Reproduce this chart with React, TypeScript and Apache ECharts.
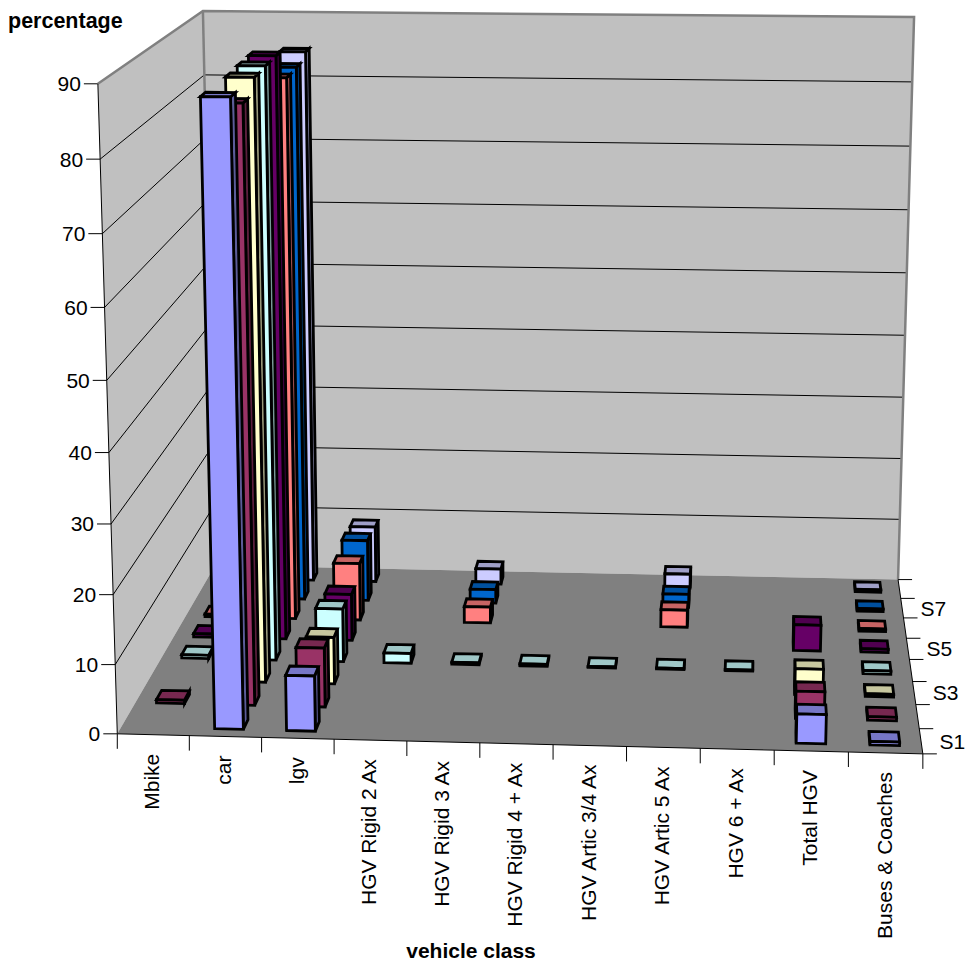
import React, { useEffect, useRef } from "react";
import * as echarts from "echarts";

const W = 966;
const H = 961;
const categories = ["Mbike", "car", "lgv", "HGV Rigid 2 Ax", "HGV Rigid 3 Ax", "HGV Rigid 4 + Ax", "HGV Artic 3/4 Ax", "HGV Artic 5 Ax", "HGV 6 + Ax", "Total HGV", "Buses & Coaches"];
const seriesNames = ["S1", "S2", "S3", "S4", "S5", "S6", "S7", "S8"];
const s1 = [null, 88, 8, null, null, null, null, null, null, 4.2, 0.5];
const s2 = [0.5, 85.7, 8.7, null, null, null, null, null, null, 4, 0.5];
const s3 = [null, 87.8, 7, null, null, null, null, null, null, 3.9, 0.4];
const s4 = [0.5, 88, 8.1, 1.5, 0.3, 0.3, 0.15, 0.15, 0.15, null, 0.5];
const s5 = [0.5, 88.1, 7.2, null, null, null, null, null, null, 4, 0.5];
const s6 = [0.4, 83.5, 9, null, 2.5, null, null, 2.7, null, null, 0.4];
const s7 = [0.4, 83.7, 9.7, null, 2.2, null, null, 2.1, null, null, 0.4];
const s8 = [0.4, 84.7, 9, null, 2.5, null, null, 2.3, null, null, 0.4];
const rows = [s1, s2, s3, s4, s5, s6, s7, s8];
const valueTicks = [0, 10, 20, 30, 40, 50, 60, 70, 80, 90];
const colors = ["#9999FF", "#993366", "#FFFFCC", "#CCFFFF", "#660066", "#FF8080", "#0066CC", "#CCCCFF"];
const axisMax = 90;
const barFraction = 0.4;

// box corners: [u, v, w, x, y]
const anchors = [
  [0, 0, 0, 117.5, 734],
  [1, 0, 0, 923, 753.5],
  [0, 1, 0, 215, 565],
  [1, 1, 0, 898, 580],
  [0, 0, 1, 97.5, 84],
  [0, 1, 1, 203.3, 11],
  [1, 1, 1, 914, 17],
];

function solveCamera(): number[] {
  const A: number[][] = [];
  const b: number[] = [];
  anchors.forEach(([u, v, w, x0, y0]) => {
    const x = x0 / 1000;
    const y = y0 / 1000;
    A.push([u, v, w, 1, 0, 0, 0, 0, -x * u, -x * v, -x * w]);
    b.push(x);
    A.push([0, 0, 0, 0, u, v, w, 1, -y * u, -y * v, -y * w]);
    b.push(y);
  });
  const n = 11;
  const M: number[][] = [];
  for (let i = 0; i < n; i++) {
    const r: number[] = [];
    for (let j = 0; j < n; j++) {
      let s = 0;
      A.forEach((row) => (s += row[i] * row[j]));
      r.push(s);
    }
    let s = 0;
    A.forEach((row, k) => (s += row[i] * b[k]));
    r.push(s);
    M.push(r);
  }
  for (let c = 0; c < n; c++) {
    let p = c;
    for (let r = c + 1; r < n; r++) if (Math.abs(M[r][c]) > Math.abs(M[p][c])) p = r;
    [M[c], M[p]] = [M[p], M[c]];
    for (let r = 0; r < n; r++) {
      if (r === c) continue;
      const f = M[r][c] / M[c][c];
      for (let k = c; k <= n; k++) M[r][k] -= f * M[c][k];
    }
  }
  return M.map((r, i) => r[n] / r[i]);
}

const cam = solveCamera();
function project(u: number, v: number, w: number): [number, number] {
  const d = cam[8] * u + cam[9] * v + cam[10] * w + 1;
  return [
    (1000 * (cam[0] * u + cam[1] * v + cam[2] * w + cam[3])) / d,
    (1000 * (cam[4] * u + cam[5] * v + cam[6] * w + cam[7])) / d,
  ];
}

function shade(hex: string, k: number): string {
  const n = parseInt(hex.slice(1), 16);
  const c = [(n >> 16) & 255, (n >> 8) & 255, n & 255].map((x) => Math.round(x * k));
  return `rgb(${c[0]},${c[1]},${c[2]})`;
}

const barSeries = (row: number) => ({
  type: "custom",
  name: seriesNames[row],
  coordinateSystem: "cartesian2d",
  encode: { x: 0, y: 1 },
  data: categories.map((c, i) => [c, rows[row][i]]).filter((d) => d[1] !== null),
  z: 5,
  clip: false,
  renderItem: (_p: any, api: any) => {
    const pt = api.coord([api.value(0), api.value(1)]);
    const band = api.size([1, 0])[0] / W;
    const uc = pt[0] / W;
    const w = (H - pt[1]) / H;
    const u0 = uc - (band * barFraction) / 2;
    const u1 = uc + (band * barFraction) / 2;
    const v0 = (row + 0.5 - barFraction / 2) / 8;
    const v1 = (row + 0.5 + barFraction / 2) / 8;
    const base = colors[row];
    const fl = project(u0, v0, 0), fr = project(u1, v0, 0), bl = project(u0, v1, 0), br = project(u1, v1, 0);
    const tfl = project(u0, v0, w), tfr = project(u1, v0, w), tbl = project(u0, v1, w), tbr = project(u1, v1, w);
    const poly = (points: number[][], fill: string) => ({
      type: "polygon",
      shape: { points },
      style: { fill, stroke: "#000", lineWidth: 2.8, lineJoin: "miter", miterLimit: 10 },
    });
    const children: any[] = [];
    if (tbr[0] > tfr[0]) children.push(poly([fr, br, tbr, tfr], shade(base, 0.6)));
    if (tbl[0] < tfl[0]) children.push(poly([fl, bl, tbl, tfl], shade(base, 0.6)));
    children.push(poly([tfl, tfr, tbr, tbl], shade(base, 0.78)));
    children.push(poly([fl, fr, tfr, tfl], base));
    return { type: "group", children };
  },
});

const frameSeries = {
  type: "custom",
  coordinateSystem: "none",
  data: [[0]],
  z: 1,
  silent: true,
  renderItem: () => {
    const children: any[] = [];
    const gray = "#808080";
    const p = (u: number, v: number, w: number) => project(u, v, w);
    children.push({ type: "polygon", shape: { points: [p(0, 0, 0), p(0, 1, 0), p(0, 1, 1), p(0, 0, 1)] }, style: { fill: "#C0C0C0", stroke: "none" } });
    children.push({ type: "polygon", shape: { points: [p(0, 1, 0), p(1, 1, 0), p(1, 1, 1), p(0, 1, 1)] }, style: { fill: "#C0C0C0", stroke: "none" } });
    valueTicks.forEach((t) => {
      const w = t / axisMax;
      if (t > 0 && t < axisMax) {
        children.push({ type: "polyline", shape: { points: [p(0, 0, w), p(0, 1, w), p(1, 1, w)] }, style: { stroke: "#000", lineWidth: 1, fill: "none" } });
      }
      const a = p(0, 0, w);
      children.push({ type: "line", shape: { x1: a[0] - 14, y1: a[1], x2: a[0], y2: a[1] }, style: { stroke: "#000", lineWidth: 1 } });
    });
    children.push({ type: "polygon", shape: { points: [p(0, 0, 0), p(1, 0, 0), p(1, 1, 0), p(0, 1, 0)] }, style: { fill: "#808080", stroke: "none" } });
    children.push({ type: "polyline", shape: { points: [p(0, 0, 1), p(0, 1, 1), p(1, 1, 1), p(1, 1, 0)] }, style: { stroke: gray, lineWidth: 2.5, fill: "none" } });
    children.push({ type: "line", shape: { x1: p(0, 1, 0)[0], y1: p(0, 1, 0)[1], x2: p(0, 1, 1)[0], y2: p(0, 1, 1)[1] }, style: { stroke: gray, lineWidth: 2.5 } });
    children.push({ type: "polyline", shape: { points: [p(0, 0, 1), p(0, 0, 0), p(1, 0, 0), p(1, 1, 0)] }, style: { stroke: "#000", lineWidth: 1, fill: "none" } });
    categories.concat([""]).forEach((_c, i) => {
      const a = p(i / categories.length, 0, 0);
      children.push({ type: "line", shape: { x1: a[0], y1: a[1], x2: a[0], y2: a[1] + 15 }, style: { stroke: "#000", lineWidth: 1 } });
    });
    seriesNames.concat([""]).forEach((_c, i) => {
      const a = p(1, i / seriesNames.length, 0);
      children.push({ type: "line", shape: { x1: a[0], y1: a[1], x2: a[0] + 14, y2: a[1] }, style: { stroke: "#000", lineWidth: 1 } });
    });
    return { type: "group", children };
  },
};

const FONT = '"Liberation Sans", Arial, sans-serif';
const TICK_SIZE = 21;

function textElements(): any[] {
  const out: any[] = [];
  valueTicks.forEach((t) => {
    const a = project(0, 0, t / axisMax);
    out.push({ type: "text", x: a[0] - 17, y: a[1], style: { text: String(t), fontFamily: FONT, fontSize: TICK_SIZE, fill: "#000", align: "right", verticalAlign: "middle" } });
  });
  categories.forEach((c, i) => {
    const a = project((i + 0.5) / categories.length, 0, 0);
    out.push({ type: "text", x: a[0] - 1.5, y: a[1] + 19, rotation: Math.PI / 2, style: { text: c, fontFamily: FONT, fontSize: TICK_SIZE, fill: "#000", align: "right", verticalAlign: "middle" } });
  });
  seriesNames.forEach((s, i) => {
    if (i % 2) return;
    const a = project(1, (i + 0.5) / seriesNames.length, 0);
    out.push({ type: "text", x: a[0] + 18.5, y: a[1], style: { text: s, fontFamily: FONT, fontSize: TICK_SIZE, fill: "#000", align: "left", verticalAlign: "middle" } });
  });
  out.push({ type: "text", x: 8, y: 21, style: { text: "percentage", fontFamily: FONT, fontWeight: "bold", fontSize: 21.5, fill: "#000", align: "left", verticalAlign: "middle" } });
  out.push({ type: "text", x: 471, y: 950, style: { text: "vehicle class", fontFamily: FONT, fontWeight: "bold", fontSize: 21, fill: "#000", align: "center", verticalAlign: "middle" } });
  return out;
}

export default function App() {
  const ref = useRef<HTMLDivElement>(null);
  useEffect(() => {
    document.body.style.margin = "0";
    const chart = echarts.init(ref.current!, undefined, { renderer: "svg" });
    chart.setOption({
      animation: false,
      backgroundColor: "#fff",
      grid: { left: 0, top: 0, width: W, height: H },
      xAxis: { type: "category", data: categories, show: false },
      yAxis: { type: "value", min: 0, max: axisMax, show: false },
      graphic: textElements().map((e) => ({ ...e, z: 100 })),
      series: [frameSeries, ...[7, 6, 5, 4, 3, 2, 1, 0].map(barSeries)],
    });
    return () => chart.dispose();
  }, []);
  return <div ref={ref} style={{ width: W, height: H }} />;
}
